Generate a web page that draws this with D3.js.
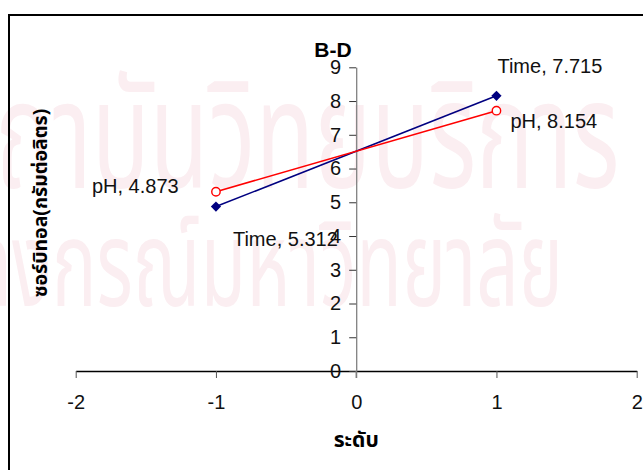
<!DOCTYPE html>
<html>
<head>
<meta charset="utf-8">
<script src="https://cdn.jsdelivr.net/npm/d3@7"></script>
<style>
  body { margin: 0; background: #fff; }
  svg { display: block; font-family: "Liberation Sans", Arial, sans-serif; }
</style>
</head>
<body>
<svg id="chart" width="643" height="470"></svg>
<script>
'use strict';

// --- data
const xTicks = [-2, -1, 0, 1, 2];
const yTicks = [0, 1, 2, 3, 4, 5, 6, 7, 8, 9];
const levels = [-1, 1];
const phValues = [4.873, 8.154];
const timeValues = [5.312, 7.715];
const seriesNames = ['pH', 'Time'];

const chartTitle = 'B-D';
const xTitle = 'ระดับ';
const yTitle = 'ซอร์บิทอล(กรัมต่อลิตร)';
const watermark = ['สถาบันวิทยบริการ', 'จุฬาลงกรณ์มหาวิทยาลัย'];

// where the data labels were dragged to (px offset from their point)
const labelOffsets = {
	pH:   [[-124, -14], [14, 32]],
	Time: [[17, 54], [1, -38]]
};

const thaiFont = '"Noto Sans Thai", "Loma", "Garuda", sans-serif';

const svg = d3.select('#chart');

// - faint watermark behind everything
const wm = svg.append('g').attr('fill', '#fbeef1')
	.style('font-family', thaiFont);
wm.append('text').attr('transform', 'translate(-60,188) scale(0.64,1)')
	.attr('font-size', 150).text(watermark[0]);
wm.append('text').attr('transform', 'translate(-150,306) scale(0.62,1)')
	.attr('font-size', 120).text(watermark[1]);

// - chart frame (only top/left visible in the window)
svg.append('rect')
	.attr('x', 9).attr('y', 15)
	.attr('width', 700).attr('height', 500)
	.attr('fill', 'none').attr('stroke', '#000').attr('stroke-width', 2);

const x = d3.scaleLinear().domain([-2, 2]).range([75.7, 636.7]);
const y = d3.scaleLinear().domain([0, 9]).range([371, 67.3]);

// x axis
const gx = svg.append('g')
	.attr('transform', `translate(0,${y(0)})`)
	.call(d3.axisBottom(x).tickValues(xTicks).tickFormat(d => String(d))
		.tickSize(7).tickSizeOuter(0).tickPadding(17));
gx.select('.domain').attr('stroke', '#000').attr('stroke-width', 1.3);
gx.selectAll('.tick line').attr('stroke', '#555');
gx.selectAll('text').attr('font-size', 20).attr('fill', '#111')
	.style('font-family', '"Liberation Sans", Arial, sans-serif');

// y axis sits at x = 0
const gy = svg.append('g')
	.attr('transform', `translate(${x(0)},0)`)
	.call(d3.axisLeft(y).tickValues(yTicks).tickFormat(d => String(d))
		.tickSize(7).tickSizeOuter(0).tickPadding(8));
gy.select('.domain').attr('stroke', '#808080').attr('stroke-width', 1.3);
gy.selectAll('.tick line').attr('stroke', '#333');
gy.selectAll('text').attr('font-size', 20).attr('fill', '#111')
	.style('font-family', '"Liberation Sans", Arial, sans-serif');
// axis line runs a bit past zero like the original
svg.append('line')
	.attr('x1', x(0)).attr('x2', x(0))
	.attr('y1', y(0)).attr('y2', y(0) + 7)
	.attr('stroke', '#808080').attr('stroke-width', 1.3);

// - series
const series = [
	{ name: seriesNames[0], values: phValues, color: '#000080', marker: 'diamond' },
	{ name: seriesNames[1], values: timeValues, color: '#ff0000', marker: 'circle' }
];

const line = d3.line().x(d => x(d[0])).y(d => y(d[1]));

for (let s of series)
{
	let pts = levels.map((lv, i) => [lv, s.values[i]]);

	svg.append('path')
		.datum(pts)
		.attr('d', line)
		.attr('fill', 'none')
		.attr('stroke', s.color)
		.attr('stroke-width', 1.6);

	if (s.marker == 'diamond')
	{
		svg.selectAll(null).data(pts).join('path')
			.attr('d', d3.symbol(d3.symbolSquare, 52))
			.attr('transform', d => `translate(${x(d[0])},${y(d[1])}) rotate(45)`)
			.attr('fill', s.color);
	} else
	{
		svg.selectAll(null).data(pts).join('circle')
			.attr('cx', d => x(d[0])).attr('cy', d => y(d[1]))
			.attr('r', 4.2)
			.attr('fill', '#fff')
			.attr('stroke', s.color).attr('stroke-width', 1.4);
	}

	svg.selectAll(null).data(pts).join('text')
		.attr('x', (d, i) => x(d[0]) + labelOffsets[s.name][i][0])
		.attr('y', (d, i) => y(d[1]) + labelOffsets[s.name][i][1])
		.attr('font-size', 20)
		.attr('fill', '#111')
		.text(d => s.name + ', ' + d[1]);
}

// - titles
svg.append('text')
	.attr('x', 333).attr('y', 57)
	.attr('text-anchor', 'middle')
	.attr('font-size', 21).attr('font-weight', 'bold')
	.text(chartTitle);

svg.append('text')
	.attr('x', x(0)).attr('y', 447)
	.attr('text-anchor', 'middle')
	.attr('font-size', 21).attr('font-weight', 'bold')
	.style('font-family', thaiFont)
	.text(xTitle);

svg.append('text')
	.attr('transform', 'translate(47,203) rotate(-90)')
	.attr('text-anchor', 'middle')
	.attr('font-size', 19.5).attr('font-weight', 'bold')
	.style('font-family', thaiFont)
	.text(yTitle);
</script>
</body>
</html>
